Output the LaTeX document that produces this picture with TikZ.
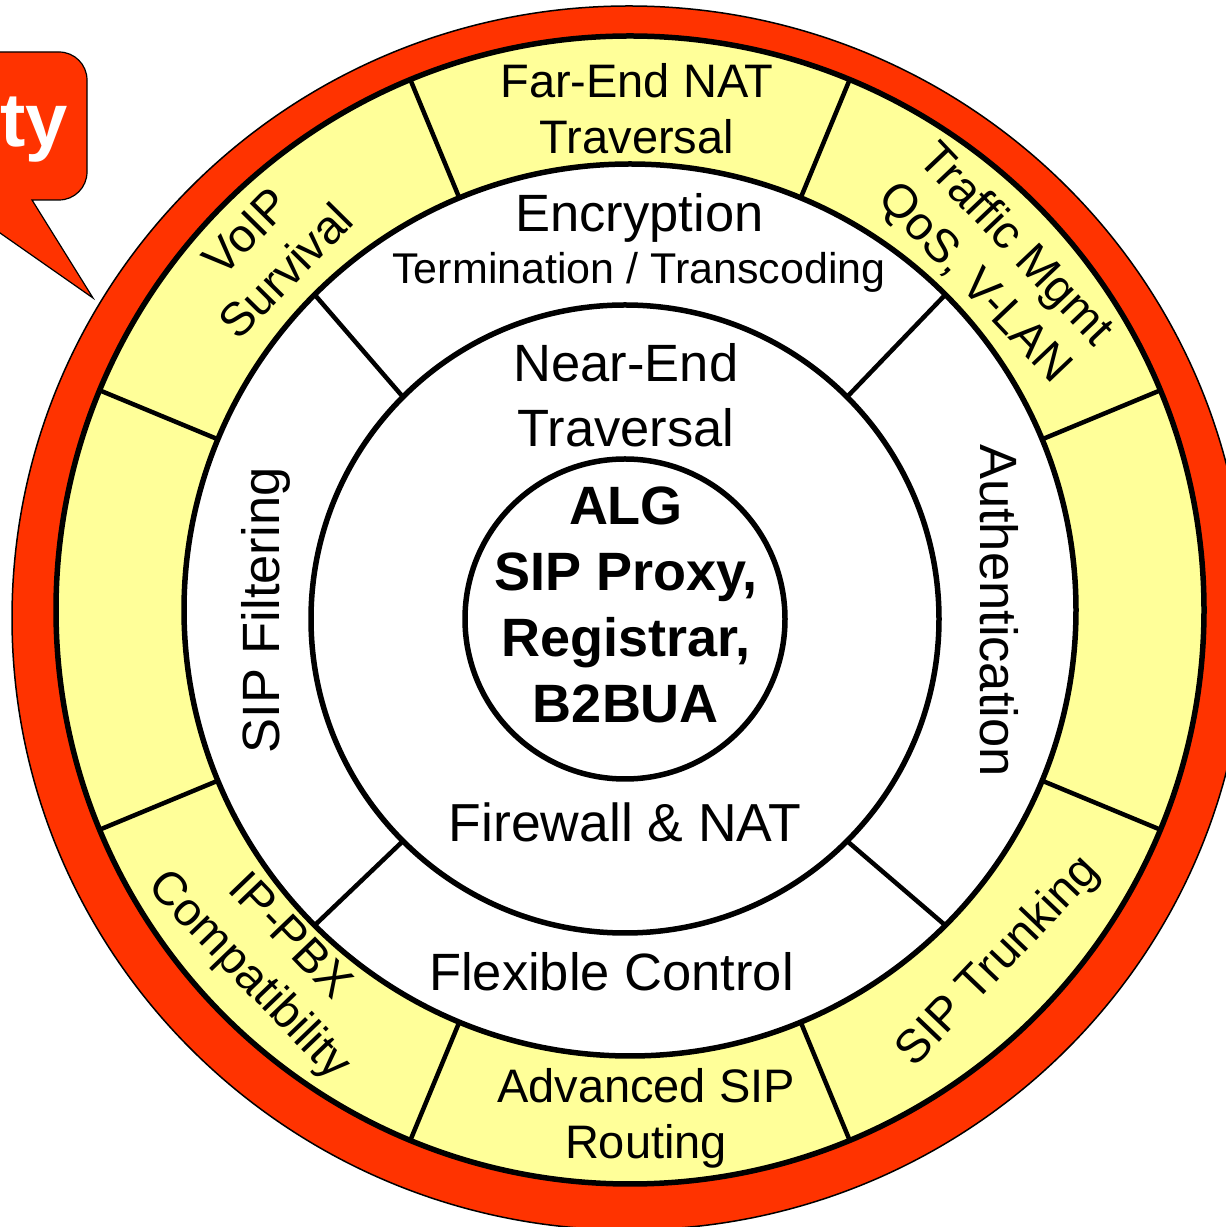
\documentclass[tikz,border=0pt]{standalone}
\usepackage{fontspec}
\setmainfont{Liberation Sans}
\usetikzlibrary{calc}
\definecolor{ringyellow}{HTML}{FFFF99}
\definecolor{ringred}{HTML}{FF3300}
\begin{document}
\begin{tikzpicture}[x=1pt,y=1pt,
  ring/.style={draw=black, line width=5.5pt},
  divider/.style={draw=black, line width=4.5pt},
  yel/.style={font=\fontsize{47}{56}\selectfont, align=center, inner sep=0pt},
  wht/.style={font=\fontsize{52.5}{65}\selectfont, align=center, inner sep=0pt},
  core/.style={font=\bfseries\fontsize{54}{66}\selectfont, align=center, inner sep=0pt}]
\useasboundingbox (0,0) rectangle (1226,1227);
\clip (0,0) rectangle (1226,1227);
\fill[white] (0,0) rectangle (1226,1227);
\coordinate (O) at (630,617);
\coordinate (I) at (625,608);
\coordinate (R) at (629,609);
% rings
\draw[fill=ringred, draw=black, line width=1.5pt] (R) ellipse [x radius=617, y radius=612];
\draw[ring, fill=ringyellow] (O) circle [radius=574];
\draw[ring, fill=white] (O) circle [radius=446];
\draw[ring, fill=white] (I) circle [radius=314];
\draw[ring, fill=white] (I) circle [radius=160];
\foreach \a in {22.5,67.5,...,337.5}
  \draw[divider] ($(O)+(\a:446)$) -- ($(O)+(\a:574)$);
\foreach \a in {45,135,225,315}
  \draw[divider] ($(I)+(\a:314)$) -- ($(O)+(\a:446)$);
% callout
\draw[fill=ringred, draw=black, line width=1.2pt]
  (-60,1175) -- (59,1175) arc[start angle=90, end angle=0, radius=28]
  -- (87,1055) arc[start angle=0, end angle=-90, radius=28]
  -- (32,1027) -- (93,929) -- (-50,1029) -- (-60,1029) -- cycle;
\node[anchor=base east, text=white, font=\bfseries\fontsize{76}{90}\selectfont, inner sep=0pt] (ty) at (68,1080) {ty};
% yellow ring texts
\node[yel] (farend) at (637,1118) {Far-End NAT\\Traversal};
\node[yel] (advsip) at (646,109) {Advanced SIP\\Routing};
\node[yel, rotate=-46.5] (traffic) at ($(O)+(43.5:502)$) {Traffic Mgmt\\QoS, V-LAN};
\node[yel, rotate=45.4] (voip) at ($(O)+(135.4:511)$) {VoIP\\Survival};
\node[yel, rotate=-46.2] (ippbx) at ($(O)+(-136.2:502)$) {IP-PBX\\Compatibility};
\node[yel, rotate=46.35] (trunk) at ($(O)+(-43.65:510)$) {SIP Trunking};
% white ring texts
\node[wht, anchor=base] (enc) at (639.5,995) {Encryption};
\node[font=\fontsize{43}{50}\selectfont, anchor=base, inner sep=0pt] (term) at (639,943) {Termination / Transcoding};
\node[wht, rotate=-90] (auth) at (999,616.5) {Authentication};
\node[wht, rotate=90] (filt) at (266,616.5) {SIP Filtering};
\node[wht, anchor=base] (flex) at (611.5,236) {Flexible Control};
% middle ring texts
\node[wht] (near) at (626,831.6) {Near-End\\Traversal};
\node[wht, font=\fontsize{53.5}{65}\selectfont, anchor=base] (fw) at (625,385) {Firewall \& NAT};
% core
\node[core] (alg) at (626,622.5) {ALG\\SIP Proxy,\\Registrar,\\B2BUA};
\end{tikzpicture}
\end{document}
